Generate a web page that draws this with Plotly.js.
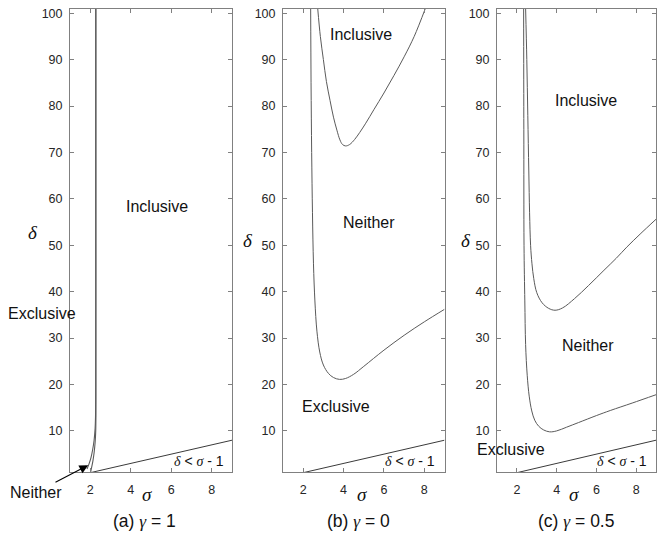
<!DOCTYPE html>
<html>
<head>
<meta charset="utf-8">
<script src="https://cdn.plot.ly/plotly-3.0.1.min.js"></script>
<style>
html,body{margin:0;padding:0;background:#fff;}
#chart{width:657px;height:533px;}
</style>
</head>
<body>
<div id="chart"></div>
<script>
// ---- data ----
const tickSigma = [2, 4, 6, 8];
const tickDelta = [10, 20, 30, 40, 50, 60, 70, 80, 90, 100];

// boundary delta = sigma - 1
const lineSigma = [2, 9];
const lineDelta = [1, 8];

// (a) gamma = 1
const aOuterSigma = [2.27, 2.27, 2.27, 2.26, 2.24, 2.19, 2.12, 2.04, 1.94, 1.84];
const aOuterDelta = [101, 60, 20, 13, 10.5, 8, 6, 4.3, 2.9, 1.8];
const aInnerSigma = [2.28, 2.28, 2.28, 2.28, 2.27, 2.24, 2.19, 2.13, 2.07, 2.02];
const aInnerDelta = [101, 60, 20, 13, 10, 7.5, 5.3, 3.5, 2.2, 1.2];

// (b) gamma = 0
const bLowerSigma = [2.37, 2.39, 2.42, 2.46, 2.51, 2.58, 2.68, 2.82, 3.0, 3.25, 3.5, 3.8, 4.1, 4.5, 5.0, 6.0, 7.0, 8.0, 9.0];
const bLowerDelta = [101, 85, 70, 57, 46, 38, 31.5, 27, 24.2, 22.4, 21.5, 21.1, 21.3, 22.2, 23.9, 27.4, 30.6, 33.5, 36.2];
const bUpperSigma = [2.72, 2.85, 3.0, 3.15, 3.33, 3.5, 3.67, 3.82, 3.95, 4.1, 4.3, 4.55, 4.8, 5.1, 5.5, 6.0, 6.5, 7.0, 7.5, 8.05];
const bUpperDelta = [101, 95, 90, 85.3, 81.2, 77.6, 74.8, 72.7, 71.7, 71.4, 71.7, 72.8, 74.3, 76.3, 79.2, 82.8, 86.6, 90.6, 95.0, 101];

// (c) gamma = 0.5
const cLowerSigma = [2.34, 2.35, 2.36, 2.40, 2.44, 2.52, 2.62, 2.75, 2.9, 3.1, 3.35, 3.65, 4.0, 4.5, 5.1, 6.0, 6.7, 7.8, 9.0];
const cLowerDelta = [101, 75, 50, 38, 28.6, 22, 17.5, 14.3, 12.3, 11.0, 10.2, 9.8, 10.0, 10.8, 11.8, 13.3, 14.4, 16.0, 17.8];
const cUpperSigma = [2.44, 2.5, 2.55, 2.6, 2.64, 2.69, 2.76, 2.85, 3.0, 3.27, 3.6, 3.92, 4.3, 4.9, 5.6, 6.38, 7.0, 7.53, 8.2, 9.0];
const cUpperDelta = [101, 90, 78, 66, 57, 50, 46, 42.8, 39.8, 37.6, 36.4, 36.0, 36.5, 38.5, 41.3, 44.6, 47.2, 49.6, 52.4, 55.6];

// ---- styling ----
const curveColor = '#5a5a5a';
const frameColor = '#808080';
const sans = 'Liberation Sans, Arial, sans-serif';

function tr(x, y, xa, ya, color, width, smooth) {
  return {x: x, y: y, xaxis: xa, yaxis: ya, type: 'scatter', mode: 'lines',
          line: {color: color, width: width, shape: smooth ? 'spline' : 'linear', smoothing: 1},
          hoverinfo: 'skip', showlegend: false};
}

const data = [
  tr(aOuterSigma, aOuterDelta, 'x', 'y', curveColor, 1.1, true),
  tr(aInnerSigma, aInnerDelta, 'x', 'y', curveColor, 1.1, true),
  tr(lineSigma, lineDelta, 'x', 'y', '#3a3a3a', 1, false),
  tr(bLowerSigma, bLowerDelta, 'x2', 'y2', curveColor, 1, true),
  tr(bUpperSigma, bUpperDelta, 'x2', 'y2', curveColor, 1, true),
  tr(lineSigma, lineDelta, 'x2', 'y2', '#3a3a3a', 1, false),
  tr(cLowerSigma, cLowerDelta, 'x3', 'y3', curveColor, 1, true),
  tr(cUpperSigma, cUpperDelta, 'x3', 'y3', curveColor, 1, true),
  tr(lineSigma, lineDelta, 'x3', 'y3', '#3a3a3a', 1, false)
];

const W = 657, H = 533;
const px = v => v / W;
const py = v => 1 - v / H;
const yDom = [py(472), py(9)];

function xax(dom) {
  return {domain: dom, range: [1, 9], tickvals: tickSigma, ticks: 'inside', ticklen: 4,
          tickcolor: frameColor, showline: true, linecolor: frameColor, linewidth: 1,
          mirror: 'ticks', showgrid: false, zeroline: false, ticklabelstandoff: 6,
          tickfont: {family: sans, size: 12.5, color: '#262626'}, fixedrange: true};
}
function yax(anchor) {
  return {domain: yDom, range: [1.15, 100.9], tickvals: tickDelta, ticks: 'inside', ticklen: 4,
          tickcolor: frameColor, showline: true, linecolor: frameColor, linewidth: 1,
          mirror: 'ticks', showgrid: false, zeroline: false, anchor: anchor, ticklabelstandoff: 4,
          tickfont: {family: sans, size: 12.5, color: '#262626'}, fixedrange: true};
}

function lab(text, x, y, xref, yref, size) {
  return {text: text, x: x, y: y, xref: xref, yref: yref, showarrow: false,
          xanchor: 'center', yanchor: 'middle', font: {family: sans, size: size || 16, color: '#111'}};
}
const it = s => '<span style="font-family:Liberation Serif"><i>' + s + '</i></span>';
const ineq = it('δ') + ' &lt; ' + it('σ') + ' - 1';
const gam = '<span style="font-family:Liberation Serif"><i>γ</i></span>';

const annotations = [
  // panel a
  lab('Inclusive', 5.3, 58.4, 'x', 'y'),
  lab('Exclusive', px(42), py(313), 'paper', 'paper'),
  lab(ineq, 7.35, 3.5, 'x', 'y', 14),
  {text: 'Neither', x: 1.9, y: 2.6, xref: 'x', yref: 'y', showarrow: true,
   ax: -52, ay: 27, arrowhead: 2, arrowsize: 1.6, arrowwidth: 1.1, arrowcolor: '#000',
   font: {family: sans, size: 16, color: '#111'}},
  // panel b
  lab('Inclusive', 4.84, 95.3, 'x2', 'y2'),
  lab('Neither', 5.24, 55.0, 'x2', 'y2'),
  lab('Exclusive', 3.64, 15.2, 'x2', 'y2'),
  lab(ineq, 7.3, 3.5, 'x2', 'y2', 14),
  // panel c
  lab('Inclusive', 5.47, 81.1, 'x3', 'y3'),
  lab('Neither', 5.56, 28.5, 'x3', 'y3'),
  lab('Exclusive', 1.7, 5.9, 'x3', 'y3'),
  lab(ineq, 7.3, 3.5, 'x3', 'y3', 14),
  // axis labels
  lab(it('σ'), px(147), py(494), 'paper', 'paper', 19),
  lab(it('σ'), px(362), py(494), 'paper', 'paper', 19),
  lab(it('σ'), px(574), py(494), 'paper', 'paper', 19),
  lab(it('δ'), px(33), py(232), 'paper', 'paper', 19),
  lab(it('δ'), px(248), py(240), 'paper', 'paper', 19),
  lab(it('δ'), px(466), py(240), 'paper', 'paper', 19),
  // panel captions
  lab('(a) ' + gam + ' = 1', px(144), py(521), 'paper', 'paper', 17.5),
  lab('(b) ' + gam + ' = 0', px(358), py(521), 'paper', 'paper', 17.5),
  lab('(c) ' + gam + ' = 0.5', px(576), py(521), 'paper', 'paper', 17.5)
];

const layout = {
  width: W, height: H,
  margin: {l: 0, r: 0, t: 0, b: 0, pad: 0},
  paper_bgcolor: '#fff', plot_bgcolor: '#fff',
  showlegend: false,
  xaxis: Object.assign(xax([px(70), px(232)]), {anchor: 'y'}),
  yaxis: yax('x'),
  xaxis2: Object.assign(xax([px(283), px(444.5)]), {anchor: 'y2'}),
  yaxis2: yax('x2'),
  xaxis3: Object.assign(xax([px(497), px(656)]), {anchor: 'y3'}),
  yaxis3: yax('x3'),
  annotations: annotations
};

Plotly.newPlot('chart', data, layout, {displayModeBar: false, staticPlot: true});
</script>
</body>
</html>
